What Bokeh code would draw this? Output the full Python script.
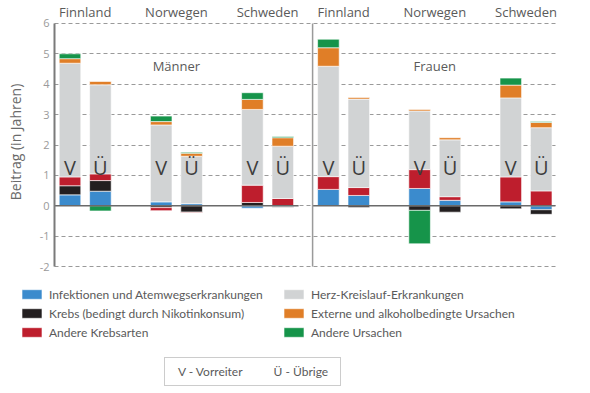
import math
from bokeh.plotting import figure
from bokeh.models import (ColumnDataSource, Range1d, LinearAxis, FixedTicker,
                          Legend, LegendItem, PrintfTickFormatter, Label)
from bokeh.core.properties import value
from bokeh.embed import file_html
from bokeh.resources import INLINE

FONT = "Open Sans"
LFONT = "Lato"

# ---------------- data ----------------
countries = ["Finnland", "Norwegen", "Schweden"]
bar_labels = ["V", "Ü"]
panels = ["Männer", "Frauen"]
key_labels = ["V - Vorreiter", "Ü - Übrige"]
y_title = "Beitrag (in Jahren)"

series_names = [
    "Infektionen und Atemwegserkrankungen",
    "Krebs (bedingt durch Nikotinkonsum)",
    "Andere Krebsarten",
    "Herz-Kreislauf-Erkrankungen",
    "Externe und alkoholbedingte Ursachen",
    "Andere Ursachen",
]
series_colors = ["#3b8bcd", "#231f20", "#be1e2d", "#d1d3d4", "#e07e27", "#16944a"]

# bar order: Finnland V, Finnland Ü, Norwegen V, Norwegen Ü, Schweden V, Schweden Ü
infekt_m = [0.36, 0.48, 0.13, 0.07, -0.08, -0.03]
krebs_nik_m = [0.30, 0.35, -0.06, -0.21, 0.11, -0.02]
andere_krebs_m = [0.29, 0.22, -0.10, -0.02, 0.57, 0.24]
herz_m = [3.74, 2.93, 2.53, 1.56, 2.49, 1.72]
extern_m = [0.15, 0.11, 0.11, 0.10, 0.33, 0.28]
andere_m = [0.16, -0.17, 0.18, 0.03, 0.22, 0.04]

infekt_f = [0.54, 0.34, 0.57, 0.18, 0.13, -0.13]
krebs_nik_f = [0.0, -0.06, -0.15, -0.21, -0.10, -0.15]
andere_krebs_f = [0.42, 0.26, 0.62, 0.12, 0.82, 0.49]
herz_f = [3.63, 2.91, 1.93, 1.87, 2.60, 2.08]
extern_f = [0.61, 0.05, 0.05, 0.07, 0.42, 0.17]
andere_f = [0.28, 0.0, -1.10, 0.0, 0.23, 0.03]

y_ticks = [-2, -1, 0, 1, 2, 3, 4, 5, 6]

men = [infekt_m, krebs_nik_m, andere_krebs_m, herz_m, extern_m, andere_m]
women = [infekt_f, krebs_nik_f, andere_krebs_f, herz_f, extern_f, andere_f]

# ---------------- layout constants ----------------
W, H = 580, 390
SUB_STEP = 1.0
GROUP_STEP = 3.0
PANEL_STEP = 8.5
BAR_W = 0.71
PX = 30.4                      # pixels per unit
AX_X = -0.51                   # x of the value axis
GRID_END = 15.97
X0 = -69.5 / PX
X1 = X0 + W / PX
Y1 = 205.3 / PX
Y0 = Y1 - H / PX

def xpos(panel, g, s):
    return panel * PANEL_STEP + g * GROUP_STEP + s * SUB_STEP

p = figure(width=W, height=H, x_range=Range1d(X0, X1), y_range=Range1d(Y0, Y1),
           output_backend="svg", toolbar_location=None, y_axis_location=None,
           x_axis_location=None, min_border_left=0, min_border_right=0,
           min_border_top=0, min_border_bottom=0)
p.outline_line_color = None
p.xgrid.visible = False
p.ygrid.ticker = FixedTicker(ticks=y_ticks)
p.ygrid.grid_line_color = "#9a9a9a"
p.ygrid.grid_line_dash = "4 3"
p.ygrid.grid_line_width = 1
try:
    p.ygrid.cross_bounds = (AX_X, GRID_END)
except Exception:
    p.ygrid.visible = False
    for t in y_ticks:
        if t != 0:
            p.segment(x0=[AX_X], y0=[t], x1=[GRID_END], y1=[t], line_color="#9a9a9a",
                      line_dash="4 3", line_width=1)

yaxis = LinearAxis(ticker=FixedTicker(ticks=y_ticks), bounds=(-2, 6),
                   fixed_location=AX_X, formatter=PrintfTickFormatter(format="%d"))
yaxis.axis_line_color = "#7a7a7a"
yaxis.axis_line_width = 2
yaxis.major_tick_line_color = None
yaxis.minor_tick_line_color = None
yaxis.major_tick_out = 0
yaxis.major_tick_in = 0
yaxis.minor_tick_out = 0
yaxis.major_label_standoff = 5
yaxis.major_label_text_font = FONT
yaxis.major_label_text_font_size = "11px"
yaxis.major_label_text_color = "#9a9a9a"
p.add_layout(yaxis, "left")

p.add_layout(Label(x=(15 - 69.5) / PX, y=2.1, text=y_title, angle=math.pi / 2,
                   text_align="center", text_baseline="middle", text_font=FONT,
                   text_font_size="14px", text_color="#6a6a6a"))

series_renderers = [[] for _ in series_names]

for pi, data in enumerate([men, women]):
    n = len(data[0])
    pos_acc = [0.0] * n
    neg_acc = [0.0] * n
    xs_all = [xpos(pi, i // 2, i % 2) for i in range(n)]
    for si, vals in enumerate(data):
        xs, tops, bottoms = [], [], []
        for i, v in enumerate(vals):
            if v == 0:
                continue
            if v > 0:
                b, t = pos_acc[i], pos_acc[i] + v
                pos_acc[i] = t
            else:
                t, b = neg_acc[i], neg_acc[i] + v
                neg_acc[i] = b
            xs.append(xs_all[i]); tops.append(t); bottoms.append(b)
        src = ColumnDataSource(dict(x=xs, top=tops, bottom=bottoms))
        r = p.vbar(x="x", top="top", bottom="bottom", width=BAR_W, source=src,
                   fill_color=series_colors[si], line_color="white", line_alpha=0.6,
                   line_width=1)
        series_renderers[si].append(r)

    # zero line for panel
    x_start = AX_X if pi == 0 else PANEL_STEP - 0.52
    x_end = PANEL_STEP - 0.98 if pi == 0 else GRID_END
    p.segment(x0=[x_start], y0=[0], x1=[x_end], y1=[0], line_color="#6a6a6a", line_width=1.5)

    # V / Ü labels
    lt = [bar_labels[i % 2] for i in range(n)]
    p.text(x=xs_all, y=[1.27] * n, text=lt, text_align="center", text_baseline="middle",
           text_font=value(FONT), text_font_size="20px", text_color="#3d3d3d")

    # country labels
    cx = [xpos(pi, g, 0.5) for g in range(len(countries))]
    p.text(x=cx, y=[6.36] * len(countries), text=countries, text_align="center",
           text_baseline="middle", text_font=value(FONT), text_font_size="13px",
           text_color="#5a5a5a")

    # panel title
    p.text(x=[xpos(pi, 1, 0.5)], y=[4.59], text=[panels[pi]], text_align="center",
           text_baseline="middle", text_font=value(FONT), text_font_size="13px",
           text_color="#5a5a5a")

# divider between panels
p.segment(x0=[PANEL_STEP - 0.52], y0=[-2], x1=[PANEL_STEP - 0.52], y1=[6],
          line_color="#9a9a9a", line_width=1.5)

# ---------------- legends ----------------
def series_legend(idx, loc):
    lg = Legend(items=[LegendItem(label=series_names[i], renderers=series_renderers[i][:1])
                       for i in idx],
                location=loc, orientation="vertical", padding=0, margin=0, spacing=3,
                glyph_width=25, glyph_height=12, label_standoff=5, label_height=16,
                label_text_font=LFONT, label_text_font_size="12px",
                label_text_color="#5a5a5a", background_fill_alpha=0,
                border_line_alpha=0)
    p.add_layout(lg, "center")

series_legend([0, 1, 2], (19, 50))
series_legend([3, 4, 5], (281, 50))

dummy = p.rect(x=[], y=[], width=1, height=1, fill_alpha=0, line_alpha=0)
key = Legend(items=[LegendItem(label=t, renderers=[dummy]) for t in key_labels],
             location=(164, 4), orientation="horizontal", padding=6, margin=0,
             spacing=24, glyph_width=7, glyph_height=12, label_standoff=0,
             label_width=60, label_height=15, label_text_font=LFONT,
             label_text_font_size="12px", label_text_color="#5a5a5a",
             background_fill_alpha=0, border_line_color="#9a9a9a", border_line_width=1)
p.add_layout(key, "center")

open("out.html", "w").write(file_html(p, INLINE))
